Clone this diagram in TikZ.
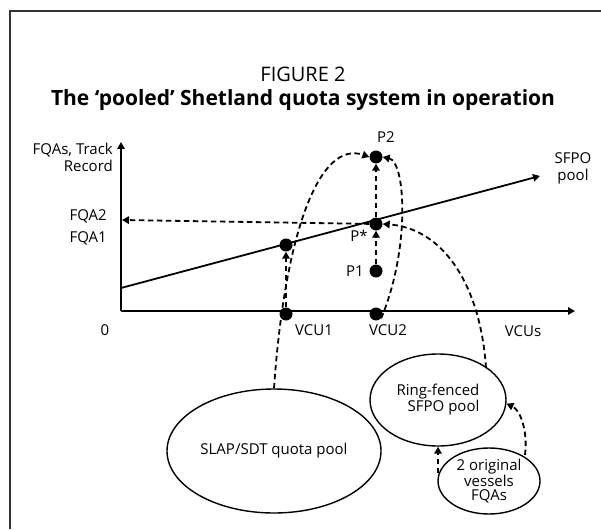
\documentclass[tikz,border=0pt]{standalone}
\usepackage{fontspec}
\setmainfont{Open Sans}
\usetikzlibrary{arrows.meta,shapes.geometric}
\begin{document}
\begin{tikzpicture}[x=1pt,y=-1pt,
    thick line/.style={line width=1.8pt},
    dasharrow/.style={line width=1.8pt,dash pattern=on 5.5pt off 3.5pt,-{Triangle[length=7pt,width=7.5pt]}},
    dot/.style={circle,fill,inner sep=0pt,minimum size=13pt},
    lab/.style={font=\fontsize{15}{17}\selectfont,inner sep=0pt},
    pool/.style={ellipse,draw,line width=1.4pt,inner sep=0pt,font=\fontsize{15}{16}\selectfont,align=center}]
\useasboundingbox (0,0) rectangle (601,529);
\draw[line width=1.3pt,black!80] (10,529) -- (10,11) -- (601,11);

\node[font=\fontsize{20}{22}\selectfont] (fig) at (303,74) {FIGURE 2};
\node[font=\fontsize{21}{24}\selectfont\bfseries] (title) at (303,100) {The ‘pooled’ Shetland quota system in operation};

\coordinate (orig) at (121,311);
\coordinate (ytop) at (121,142);
\coordinate (xend) at (575,311);
\coordinate (sfpoa) at (121,288);
\coordinate (sfpob) at (540,176);
\coordinate (fqa) at (122,220);
\draw[thick line,-{Triangle[length=7pt,width=7.5pt]}] (orig) -- (ytop);
\draw[thick line,-{Triangle[length=7pt,width=7.5pt]}] (orig) -- (xend);
\draw[thick line,-{Triangle[length=7pt,width=7.5pt]}] (sfpoa) -- (sfpob);

\node[lab,align=right,anchor=east] (ylab) at (113,157) {FQAs, Track\\Record};
\node[lab,anchor=east] (fqatwo) at (107,216) {FQA2};
\node[lab,anchor=east] (fqaone) at (107,238) {FQA1};
\node[lab] (zero) at (105,330) {0};
\node[lab,align=center] (sfpo) at (573,168) {SFPO\\pool};

\node[dot] (qone) at (286,245) {};
\node[dot] (pstar) at (376,224) {};
\node[dot] (pone) at (376,271) {};
\node[dot] (ptwo) at (376,157) {};
\node[dot] (vcuone) at (286,314) {};
\node[dot] (vcutwo) at (376,314) {};

\node[lab] (ptwolab) at (386,137) {P2};
\node[lab] (pstarlab) at (359,236) {P*};
\node[lab] (ponelab) at (355,271) {P1};
\node[lab] (vcuonelab) at (314,330) {VCU1};
\node[lab] (vcutwolab) at (388,330) {VCU2};
\node[lab] (vcus) at (523,331) {VCUs};

\node[pool,minimum width=214pt,minimum height=124pt] (slap) at (274,451) {SLAP/SDT quota pool};
\node[pool,minimum width=136pt,minimum height=92pt,align=right] (ring) at (438,400) {Ring-fenced\\SFPO pool};
\node[pool,minimum width=102pt,minimum height=66pt,font=\fontsize{15}{14.5}\selectfont] (two) at (489,481) {2 original\\vessels\\FQAs};

\draw[dasharrow] (pstar) -- (fqa);
\draw[dasharrow] (pone) -- (pstar);
\draw[dasharrow] (pstar) -- (ptwo);
\draw[dasharrow] (vcuone) -- (qone);
\draw[dasharrow] (slap.north) .. controls (285,230) and (320,140) .. (ptwo.west);
\draw[dasharrow] (vcutwo.-40) .. controls (410,250) and (406,162) .. (ptwo.east);
\draw[dasharrow] (486,368) .. controls (480,280) and (440,228) .. (pstar.east);
\draw[dasharrow] (ring.south |- 0,473) -- (ring.south);
\draw[dasharrow] (525,455) .. controls (528,430) and (520,410) .. (ring.-3);
\end{tikzpicture}
\end{document}
